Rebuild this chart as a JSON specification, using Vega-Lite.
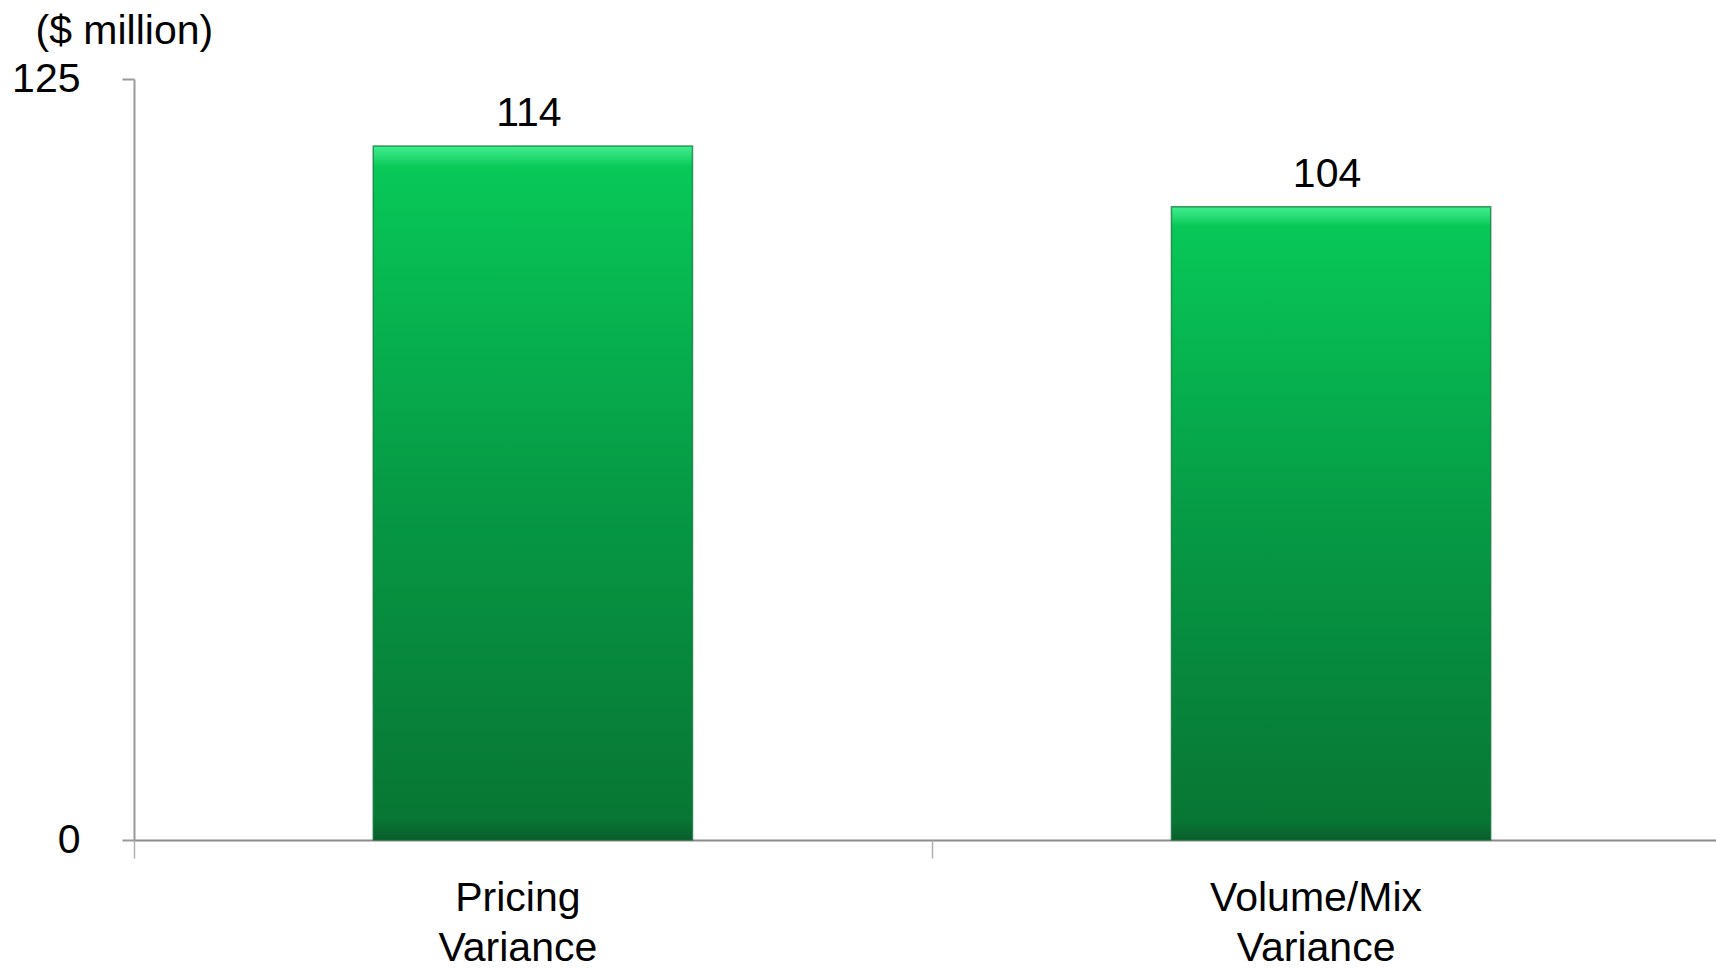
{
  "$schema": "https://vega.github.io/schema/vega-lite/v6.json",
  "width": 1582,
  "height": 761,
  "autosize": {"type": "none"},
  "padding": {"left": 134, "top": 79, "right": 0, "bottom": 129},
  "background": "white",
  "config": {"view": {"stroke": null}, "font": "Liberation Sans"},
  "data": {"values": [
    {"category": "Pricing Variance", "value": 114},
    {"category": "Volume/Mix Variance", "value": 104}
  ]},
  "encoding": {
    "y": {
      "field": "value", "type": "quantitative",
      "scale": {"domain": [0, 125], "nice": false},
      "axis": {
        "values": [0, 125], "grid": false,
        "title": "($ million)", "titleAngle": 0, "titleAlign": "left", "titleBaseline": "alphabetic",
        "titleX": -99, "titleY": -36, "titleFontSize": 41, "titleFontWeight": "normal", "titleColor": "#000000", "titleFont": "Liberation Sans",
        "labelFontSize": 41, "labelColor": "#000000", "labelFont": "Liberation Sans", "labelPadding": 42,
        "tickSize": 12, "tickColor": "#9a9a9a", "tickWidth": 2,
        "domainColor": "#9a9a9a", "domainWidth": 2
      }
    }
  },
  "layer": [
    {
      "mark": {
        "type": "bar",
        "stroke": "#0b6e30", "strokeWidth": 1.5, "strokeOpacity": 0.7,
        "color": {
          "gradient": "linear", "x1": 0, "y1": 0, "x2": 0, "y2": 1,
          "stops": [
            {"offset": 0, "color": "#3cf08e"},
            {"offset": 0.012, "color": "#2ee07a"},
            {"offset": 0.03, "color": "#08c858"},
            {"offset": 0.5, "color": "#069a45"},
            {"offset": 0.97, "color": "#087634"},
            {"offset": 1, "color": "#0a5e2c"}
          ]
        }
      },
      "encoding": {
        "x": {
          "field": "category", "type": "nominal", "sort": null,
          "scale": {"paddingInner": 0.6, "paddingOuter": 0.291, "align": 0.515},
          "axis": {
            "title": null, "labelAngle": 0, "ticks": false,
            "labelExpr": "split(datum.label, ' ')", "labelLimit": 0, "labelOffset": -15,
            "labelFontSize": 41, "labelColor": "#000000", "labelFont": "Liberation Sans",
            "labelLineHeight": 50, "labelPadding": 38, "labelBaseline": "top",
            "domainColor": "#8c8c8c", "domainWidth": 2
          }
        }
      }
    },
    {
      "mark": {"type": "text", "dy": -20, "dx": -4, "baseline": "alphabetic", "fontSize": 41, "font": "Liberation Sans", "color": "#000000"},
      "encoding": {
        "x": {
          "field": "category", "type": "nominal", "sort": null,
          "axis": {
            "orient": "bottom", "title": null, "labels": false, "domain": false,
            "ticks": true, "bandPosition": -0.749, "tickSize": 18, "tickColor": "#b0b0b0", "tickWidth": 1.5,
            "grid": false
          }
        },
        "text": {"field": "value", "type": "quantitative"}
      }
    }
  ],
  "resolve": {"axis": {"x": "independent"}}
}
